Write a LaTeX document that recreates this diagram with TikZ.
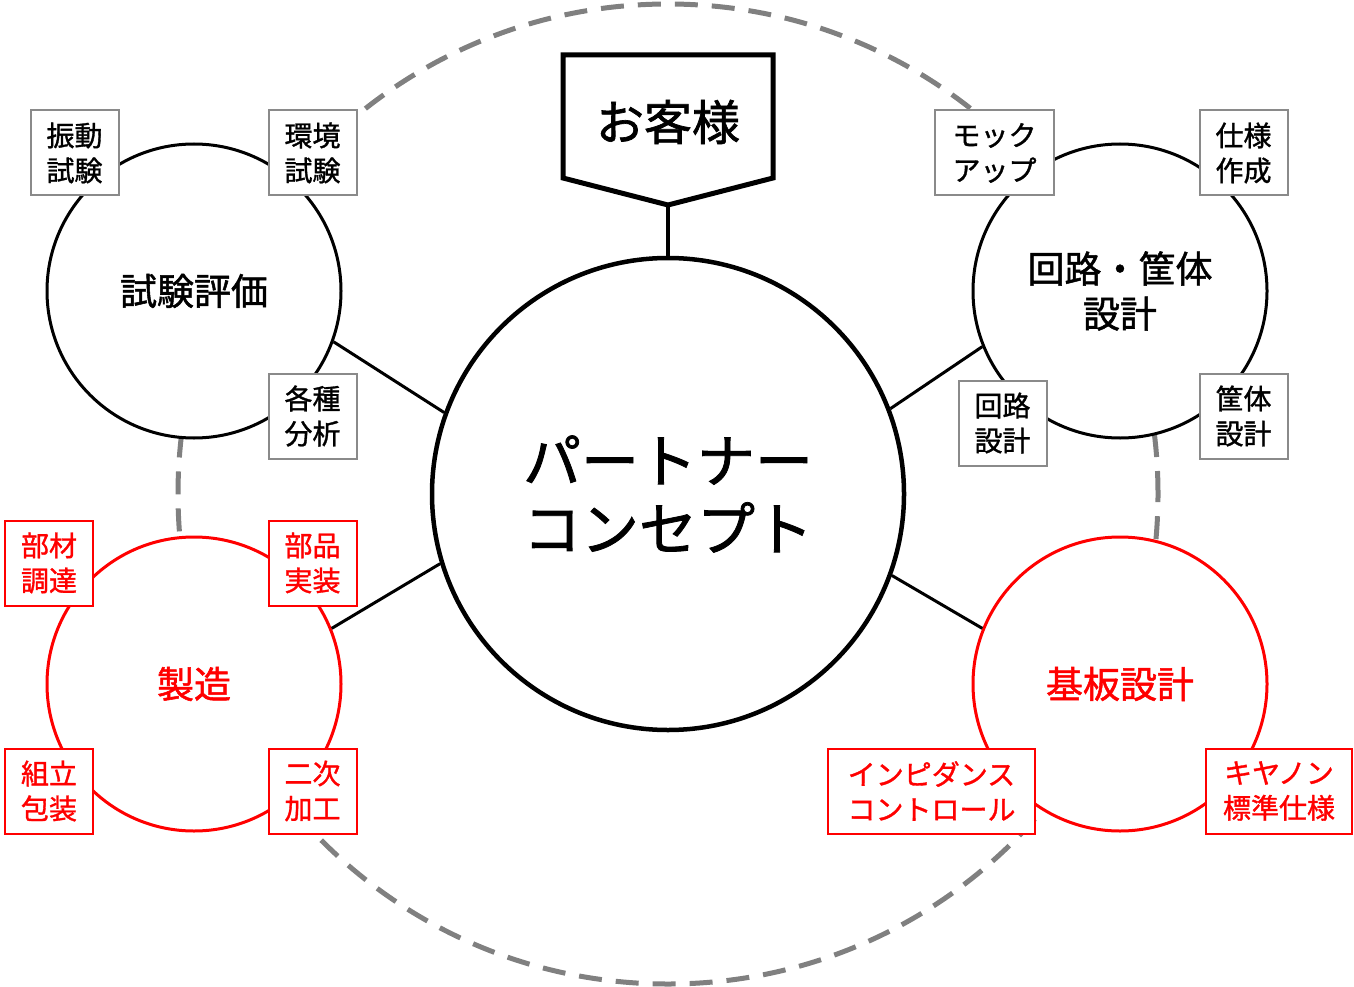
\documentclass[tikz,border=0pt]{standalone}
\usepackage{fontspec}
\setmainfont{Noto Sans CJK JP}
\newfontfamily\medfont{Noto Sans CJK JP}[FakeBold=1.4]
\newfontfamily\tagfont{Noto Sans CJK JP}[FakeBold=1.2]
\usetikzlibrary{calc}
\definecolor{tagGray}{HTML}{8A8A8A}
\definecolor{ringGray}{HTML}{808080}
\definecolor{redC}{HTML}{FF0000}
\begin{document}
\begin{tikzpicture}[x=1pt,y=-1pt,
  tagbox/.style={draw=tagGray, line width=2pt, fill=white, minimum width=88pt, minimum height=85pt, inner sep=0pt, align=center, font=\tagfont\fontsize{28}{35}\selectfont},
  redtag/.style={tagbox, draw=redC, text=redC},
  subcircle/.style={circle, draw=black, line width=3pt, fill=white, minimum size=294pt, inner sep=0pt, align=center, font=\medfont\fontsize{37}{45}\selectfont},
  redcircle/.style={subcircle, draw=redC, text=redC},
  link/.style={line width=3pt, black}
]
\useasboundingbox (0,0) rectangle (1354,987);
% big dashed ring
\draw[ringGray, line width=5pt, dash pattern=on 23pt off 14pt] (668,494) circle (490pt);
% central circle
\node[circle, draw=black, line width=4.5pt, fill=white, minimum size=472pt, inner sep=0pt, align=center, font=\medfont\fontsize{58}{68}\selectfont] (center) at (668,494) {パートナー\\コンセプト};
% sub circles
\node[subcircle] (test) at (194,291) {試験評価};
\node[subcircle] (design) at (1120,291) {回路・筐体\\設計};
\node[redcircle] (mfg) at (194,684) {製造};
\node[redcircle] (pcb) at (1120,684) {基板設計};
% connectors
\draw[link] (test.-20) -- (center.160);
\draw[link] (design.202) -- (center.21);
\draw[link] (mfg.22) -- (center.197);
\draw[link] (pcb.158) -- (center.-20);
% customer
\coordinate (custtip) at (668,205);
\draw[line width=3.5pt] (custtip) -- (center.north);
\draw[line width=5pt, fill=white, line join=miter] (563,55) -- (773,55) -- (773,178) -- (custtip) -- (563,178) -- cycle;
\node[font=\medfont\fontsize{48}{56}\selectfont] (cust) at (668,122) {お客様};
% tags (gray)
\node[tagbox] (t1) at (74.5,153) {振動\\試験};
\node[tagbox] (t2) at (312.5,153) {環境\\試験};
\node[tagbox] (t3) at (312.5,416) {各種\\分析};
\node[tagbox, minimum width=119pt] (t4) at (994.5,153) {モック\\アップ};
\node[tagbox] (t5) at (1243.5,153) {仕様\\作成};
\node[tagbox] (t6) at (1002.5,423) {回路\\設計};
\node[tagbox] (t7) at (1243.5,416) {筐体\\設計};
% tags (red)
\node[redtag] (r1) at (49,563) {部材\\調達};
\node[redtag] (r2) at (312.5,563) {部品\\実装};
\node[redtag] (r3) at (49,791) {組立\\包装};
\node[redtag] (r4) at (312.5,791) {二次\\加工};
\node[redtag, minimum width=207pt] (r5) at (931.5,791) {インピダンス\\コントロール};
\node[redtag, minimum width=146pt] (r6) at (1279,791) {キヤノン\\標準仕様};
\end{tikzpicture}
\end{document}
